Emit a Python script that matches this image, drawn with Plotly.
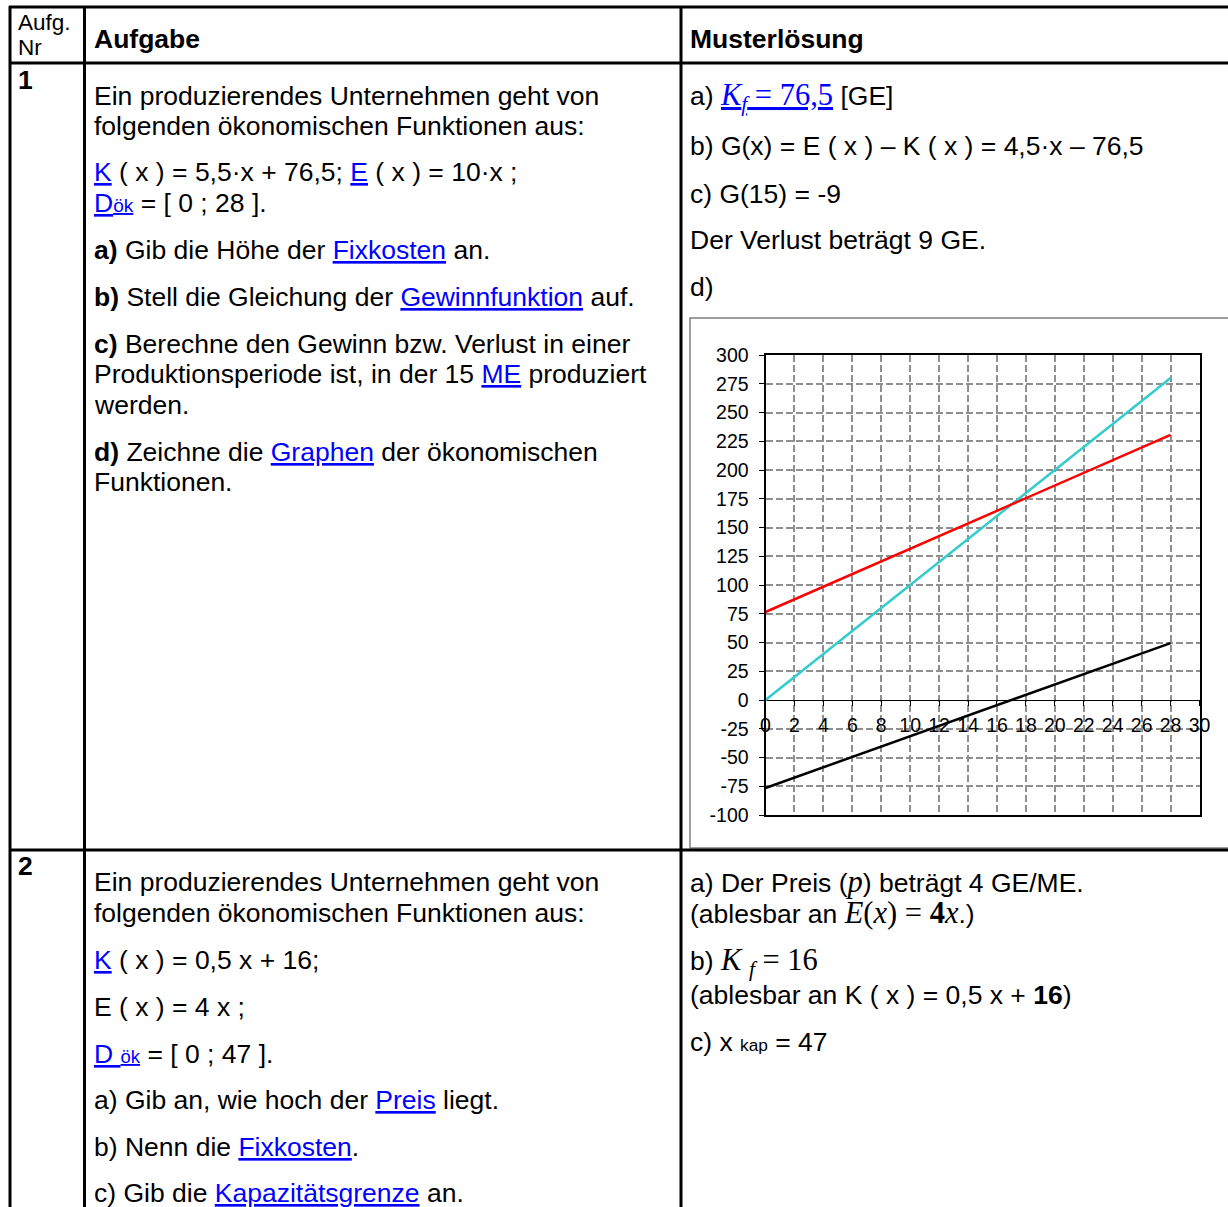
import plotly.graph_objects as go

W, H = 1228, 1207

# ---------------- chart data ----------------
x_vals = [0, 28]
kosten = [76.5, 230.5]      # K(x) = 5,5x + 76,5
erloes = [0, 280]           # E(x) = 10x
gewinn = [-76.5, 49.5]      # G(x) = 4,5x - 76,5
y_tickvals = [-100, -75, -50, -25, 0, 25, 50, 75, 100, 125, 150, 175, 200, 225, 250, 275, 300]
x_tickvals = [0, 2, 4, 6, 8, 10, 12, 14, 16, 18, 20, 22, 24, 26, 28, 30]

BLUE = "#0000FF"
FONT = "Liberation Sans, Arial, sans-serif"
MATH = "font-family:Liberation Serif, DejaVu Serif, serif;font-size:30.5px"


def link(t):
    return f'<span style="color:{BLUE}"><u>{t}</u></span>'


def math(t):
    return f'<span style="{MATH}">{t}</span>'


# ---------------- text content ----------------
header_cells = [
    (17, 22, "Aufg.", 22.5),
    (17, 48, "Nr", 22.5),
    (93, 39, "<b>Aufgabe</b>", 26.5),
    (689, 39, "<b>Musterlösung</b>", 26.5),
    (17, 80, "<b>1</b>", 26.5),
    (17, 866, "<b>2</b>", 26.5),
]

col2_r1 = [
    (96, "Ein produzierendes Unternehmen geht von"),
    (126, "folgenden ökonomischen Funktionen aus:"),
    (172, link("K") + " ( x ) = 5,5·x + 76,5; " + link("E") + " ( x ) = 10·x ;"),
    (203, link("D<span style='font-size:72%'>ök</span>") + " = [ 0 ; 28 ]."),
    (250, "<b>a)</b> Gib die Höhe der " + link("Fixkosten") + " an."),
    (297, "<b>b)</b> Stell die Gleichung der " + link("Gewinnfunktion") + " auf."),
    (344, "<b>c)</b> Berechne den Gewinn bzw. Verlust in einer"),
    (374, "Produktionsperiode ist, in der 15 " + link("ME") + " produziert"),
    (405, "werden."),
    (452, "<b>d)</b> Zeichne die " + link("Graphen") + " der ökonomischen"),
    (482, "Funktionen."),
]

col3_r1 = [
    (97, "a) " + link(math("<i>K</i><sub><i>f</i></sub> = 76,5")) + " [GE]"),
    (146, "b) G(x) = E ( x ) – K ( x ) = 4,5·x – 76,5"),
    (194, "c) G(15) = -9"),
    (240, "Der Verlust beträgt 9 GE."),
    (287, "d)"),
]

col2_r2 = [
    (882, "Ein produzierendes Unternehmen geht von"),
    (913, "folgenden ökonomischen Funktionen aus:"),
    (960, link("K") + " ( x ) = 0,5 x + 16;"),
    (1007, "E ( x ) = 4 x ;"),
    (1054, link("D <span style='font-size:70%'>ök</span>") + " = [ 0 ; 47 ]."),
    (1100, "a) Gib an, wie hoch der " + link("Preis") + " liegt."),
    (1147, "b) Nenn die " + link("Fixkosten") + "."),
    (1193, "c) Gib die " + link("Kapazitätsgrenze") + " an."),
]

col3_r2 = [
    (882, "a) Der Preis (" + math("<i>p</i>") + ") beträgt 4 GE/ME."),
    (913, "(ablesbar an " + math("<i>E</i>(<i>x</i>) = <b>4</b><i>x</i>") + ".)"),
    (962, "b) " + math("<i>K</i> <sub><i>f</i></sub> = 16")),
    (995, "(ablesbar an K ( x ) = 0,5 x + <b>16</b>)"),
    (1042, "c) x <span style='font-size:65%'>kap</span> = 47"),
]


def px(x):
    return x / W


def py(y):
    return 1 - y / H


annotations = []


def add_text(x, y, text, size=26.5):
    annotations.append(dict(
        x=px(x), y=py(y), xref="paper", yref="paper", text=text,
        showarrow=False, xanchor="left", yanchor="middle", borderpad=0,
        font=dict(family=FONT, size=size, color="black"), align="left"))


for (x, y, t, s) in header_cells:
    add_text(x, y, t, s)
for (y, t) in col2_r1 + col2_r2:
    add_text(93, y, t)
for (y, t) in col3_r1 + col3_r2:
    add_text(689, y, t)

# ---------------- table lines ----------------
shapes = []


def hline(y, x0, x1, color="black", width=3):
    shapes.append(dict(type="line", xref="paper", yref="paper", x0=px(x0), x1=px(x1),
                       y0=py(y), y1=py(y), line=dict(color=color, width=width), layer="above"))


def vline(x, y0, y1, color="black", width=3):
    shapes.append(dict(type="line", xref="paper", yref="paper", x0=px(x), x1=px(x),
                       y0=py(y0), y1=py(y1), line=dict(color=color, width=width), layer="above"))


# chart frame (grey)
shapes.append(dict(type="rect", xref="paper", yref="paper", x0=px(690), x1=px(1240),
                   y0=py(848), y1=py(318), line=dict(color="#7f7f7f", width=1.5),
                   fillcolor="white", layer="below"))

hline(7, 9, 1228)
hline(63, 9, 1228)
hline(850, 9, 1228)
vline(10, 6, 1207)
vline(84.5, 6, 1207)
vline(681, 6, 1207)

# ---------------- chart ----------------
X0, X1 = 765.5, 1199.5
Y0, Y1 = 355, 815
xdom = [px(X0), px(X1)]
ydom = [py(Y1), py(Y0)]
zero_pos = ydom[0] + (0 - (-100)) / 400 * (ydom[1] - ydom[0])

fig = go.Figure()
fig.add_trace(go.Scatter(x=x_vals, y=erloes, mode="lines", name="E(x)",
                         line=dict(color="#33CCCC", width=2.5)))
fig.add_trace(go.Scatter(x=x_vals, y=kosten, mode="lines", name="K(x)",
                         line=dict(color="#FF0000", width=2.5)))
fig.add_trace(go.Scatter(x=x_vals, y=gewinn, mode="lines", name="G(x)",
                         line=dict(color="#000000", width=2.5)))

grid = dict(showgrid=True, gridcolor="#8f8f8f", gridwidth=2, griddash="7px,3px")

fig.update_layout(
    width=W, height=H, autosize=False,
    margin=dict(l=0, r=0, t=0, b=0, pad=0, autoexpand=False),
    paper_bgcolor="white", plot_bgcolor="white", showlegend=False,
    font=dict(family=FONT, color="black"),
    xaxis=dict(domain=xdom, range=[0, 30], tickvals=x_tickvals, showticklabels=False,
               showline=True, linecolor="black", linewidth=2, mirror=True, automargin=False,
               zeroline=False, ticks="", **grid),
    xaxis2=dict(overlaying="x", anchor="free", position=zero_pos, range=[0, 30],
                tickvals=x_tickvals, ticktext=[str(v) for v in x_tickvals],
                showgrid=False, zeroline=False, showline=False, automargin=False,
                ticks="outside", ticklen=5, tickcolor="black", ticklabelstandoff=3,
                tickfont=dict(family=FONT, size=19.5, color="black")),
    yaxis=dict(domain=ydom, range=[-100, 300], tickvals=y_tickvals,
               ticktext=[str(v) for v in y_tickvals], automargin=False,
               showline=True, linecolor="black", linewidth=2, mirror=True,
               zeroline=True, zerolinecolor="black", zerolinewidth=1,
               ticks="outside", ticklen=5, tickcolor="black", ticklabelstandoff=6,
               tickfont=dict(family=FONT, size=19.5, color="black"), **grid),
    annotations=annotations, shapes=shapes,
)
# invisible trace so that xaxis2 (the tick labels on the zero line) is rendered
fig.add_trace(go.Scatter(x=[0], y=[0], xaxis="x2", yaxis="y", mode="markers",
                         marker=dict(opacity=0), hoverinfo="skip", showlegend=False))

with open("out.html", "w", encoding="utf-8") as f:
    f.write("<!DOCTYPE html><style>html,body{margin:0;padding:0;overflow:hidden;}</style>\n")
    fig.write_html(f, config={"displayModeBar": False},
                   post_script="document.body.style.margin='0';")
